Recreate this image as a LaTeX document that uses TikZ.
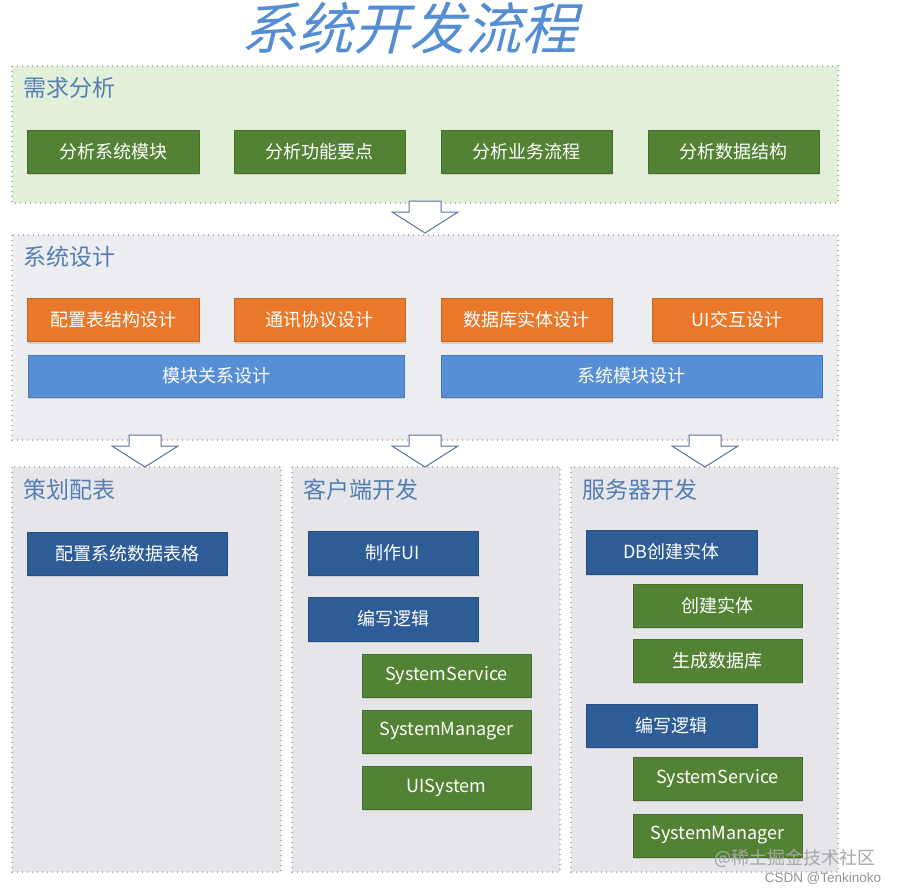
\documentclass[tikz,border=0pt]{standalone}
\usepackage{fontspec}
\newfontfamily\cjk{Noto Sans CJK SC}
\newfontfamily\cjkslant[FakeSlant=0.25]{Noto Sans CJK SC}
\newfontfamily\arialike{Liberation Sans}
\usetikzlibrary{shadows}

\definecolor{titleblue}{RGB}{84,141,212}
\definecolor{headblue}{RGB}{84,126,178}
\definecolor{greenpanel}{RGB}{226,239,217}
\definecolor{graypanel}{RGB}{236,237,241}
\definecolor{lowpanel}{RGB}{230,230,234}
\definecolor{boxgreen}{RGB}{84,130,53}
\definecolor{boxorange}{RGB}{234,120,42}
\definecolor{boxblue}{RGB}{86,143,214}
\definecolor{boxnavy}{RGB}{46,92,150}
\definecolor{arrowline}{RGB}{88,116,152}

\tikzset{
    panel/.style={draw=gray!60, line width=1.2pt, dash pattern=on 1pt off 4pt},
    head/.style={anchor=west, text=headblue, font=\cjk\fontsize{23}{23}\selectfont},
    box/.style={minimum height=43pt, inner sep=0pt, text=white,
        font=\cjk\fontsize{18}{18}\selectfont, fill=#1, draw=#1!85!black,
        drop shadow={opacity=0.25, shadow xshift=1pt, shadow yshift=-2pt}},
    downarrow/.pic={
        \draw[arrowline, fill=white, line width=1pt, line join=miter]
            (-16,0) -- (16,0) -- (16,11) -- (33,11) -- (0,32)
            -- (-33,11) -- (-16,11) -- cycle;
    }
}

\begin{document}
\begin{tikzpicture}[x=1pt, y=-1pt]
\useasboundingbox (0,0) rectangle (901,895);

% Title
\node[text=titleblue, font=\cjkslant\fontsize{56}{56}\selectfont] (title) at (409,28) {系统开发流程};

% Panels
\draw[panel, fill=greenpanel] (12,66) rectangle (838,203);
\draw[panel, fill=graypanel] (12,235) rectangle (838,440);
\draw[panel, fill=lowpanel] (12,467) rectangle (281,872);
\draw[panel, fill=lowpanel] (292,467) rectangle (560,872);
\draw[panel, fill=lowpanel] (571,467) rectangle (838,872);

% Headings
\node[head] (xq) at (20,88) {需求分析};
\node[head] (sj) at (20,257) {系统设计};
\node[head] (ch) at (20,490) {策划配表};
\node[head] (kh) at (300,490) {客户端开发};
\node[head] (fw) at (579,490) {服务器开发};

% Requirement analysis
\node[box=boxgreen, minimum width=172pt] (fx1) at (113,151.5) {分析系统模块};
\node[box=boxgreen, minimum width=171pt] (fx2) at (319.5,151.5) {分析功能要点};
\node[box=boxgreen, minimum width=171pt] (fx3) at (526.5,151.5) {分析业务流程};
\node[box=boxgreen, minimum width=171pt] (fx4) at (733.5,151.5) {分析数据结构};

% System design
\node[box=boxorange, minimum width=172pt] (sj1) at (113,320) {配置表结构设计};
\node[box=boxorange, minimum width=171pt] (sj2) at (319.5,320) {通讯协议设计};
\node[box=boxorange, minimum width=171pt] (sj3) at (526.5,320) {数据库实体设计};
\node[box=boxorange, minimum width=170pt] (sj4) at (737,320) {UI交互设计};
\node[box=boxblue, minimum width=376pt, minimum height=42pt] (mk1) at (216,376) {模块关系设计};
\node[box=boxblue, minimum width=381pt, minimum height=42pt] (mk2) at (631.5,376) {系统模块设计};

% Planning
\node[box=boxnavy, minimum width=200pt] (pb) at (127,553.5) {配置系统数据表格};

% Client
\node[box=boxnavy, minimum width=170pt, minimum height=44pt] (ui) at (393,553) {制作UI};
\node[box=boxnavy, minimum width=170pt, minimum height=44pt] (cl) at (393,619) {编写逻辑};
\node[box=boxgreen, minimum width=169pt] (cs1) at (446.5,675.5) {SystemService};
\node[box=boxgreen, minimum width=169pt] (cs2) at (446.5,731.5) {SystemManager};
\node[box=boxgreen, minimum width=169pt] (cs3) at (446.5,787.5) {UISystem};

% Server
\node[box=boxnavy, minimum width=171pt, minimum height=44pt] (db) at (671.5,552) {DB创建实体};
\node[box=boxgreen, minimum width=169pt] (ss1) at (717.5,605.5) {创建实体};
\node[box=boxgreen, minimum width=169pt] (ss2) at (717.5,660.5) {生成数据库};
\node[box=boxnavy, minimum width=171pt, minimum height=43pt] (sl) at (671.5,725.5) {编写逻辑};
\node[box=boxgreen, minimum width=169pt] (ss3) at (717.5,778.5) {SystemService};
\node[box=boxgreen, minimum width=169pt] (ss4) at (717.5,835.5) {SystemManager};

% Arrows
\pic at (425,201) {downarrow};
\pic at (145,435) {downarrow};
\pic at (425,435) {downarrow};
\pic at (705,435) {downarrow};

% Watermark
\node[text=gray!70, font=\cjk\fontsize{18}{18}\selectfont] (wm1) at (795,858) {@稀土掘金技术社区};
\node[text=gray!85, font=\arialike\fontsize{13.5}{13.5}\selectfont] (wm2) at (823,879) {CSDN @Tenkinoko};

\end{tikzpicture}
\end{document}
